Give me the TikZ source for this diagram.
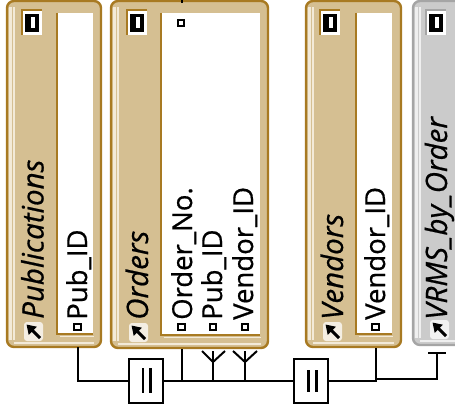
\documentclass[tikz,border=0pt]{standalone}
\usepackage{fontspec}
\setmainfont{Open Sans}[FakeBold=0.6]
\usetikzlibrary{arrows.meta,calc}
\definecolor{tanfill}{HTML}{D5BF92}
\definecolor{tanedge}{HTML}{A87A22}
\definecolor{tandark}{HTML}{9A6B14}
\definecolor{tanlight}{HTML}{F3EAD8}
\definecolor{grayfill}{HTML}{CBCBCB}
\definecolor{grayedge}{HTML}{A5A5A5}
\definecolor{graylight}{HTML}{EFEFEF}
\tikzset{
  paneltitle/.style={rotate=90, anchor=base west, inner sep=0pt, font=\fontsize{29.5}{33}\selectfont\itshape},
  fieldtext/.style={rotate=90, anchor=base west, inner sep=0pt, font=\fontsize{27.5}{30}\selectfont},
  fieldmark/.style={draw=black, fill=white, line width=1.6pt, minimum size=6.5pt, inner sep=0pt, rectangle},
  conn/.style={line width=2pt, black},
  relbox/.style={draw=black, line width=2pt, fill=white, minimum width=34pt, minimum height=44pt, inner sep=0pt},
  relbar/.style={line width=2.6pt, black},
}
\newcommand\mypanel[8]{%
  % #1 x1, #2 x2, #3 bottom, #4 fill, #5 edge, #6 light, #7 icon x, #8 arrow x
  \filldraw[fill=#4, draw=#5, line width=2.4pt, rounded corners=7pt] (#1,1) rectangle (#2,#3);
  \draw[#6, line width=2.4pt] (#1+3.5,7) -- (#1+3.5,#3-7);
  \draw[#6, line width=1.2pt] (#1+7,7) -- (#1+7,#3-7);
  \draw[#6, line width=2pt] (#1+7,#3-4) -- (#2-7,#3-4);
  \fill[white] (#7,10) rectangle (#7+20,35);
  \draw[#5, line width=1.4pt] (#7,35) -- (#7,10) -- (#7+20,10);
  \fill[black] (#7+3,14) rectangle (#7+17,32);
  \fill[white] (#7+9,17.5) rectangle (#7+13,28.5);
  \fill[white, rounded corners=3pt, opacity=0.75] (#8,#3-25) rectangle (#8+19,#3-6);
  \draw[-{Triangle[length=9pt,width=11pt]}, line width=3pt] (#8+16,#3-9) -- (#8+2.5,#3-22.5);
}
\newcommand\mywhite[4]{%
  \fill[white] (#1,13) rectangle (#2,#3);
  \draw[#4, line width=1.6pt] (#1,13) -- (#1,#3) -- (#2,#3);
  \draw[tanlight, line width=1pt] (#1+2.5,#3+2.5) -- (#2+1,#3+2.5);
}
\begin{document}
\begin{tikzpicture}[x=1pt,y=-1pt]
\useasboundingbox (0,0) rectangle (455,409);
\clip (0,0) rectangle (455,409);
\fill[white] (0,0) rectangle (455,409);

% panels
\mypanel{7}{101}{347}{tanfill}{tanedge}{tanlight}{22}{24}
\mywhite{57}{93}{334}{tanedge}
\mypanel{111}{268}{348}{tanfill}{tanedge}{tanlight}{127}{129}
\mywhite{161}{260}{335}{tanedge}
\mypanel{306}{401}{347}{tanfill}{tanedge}{tanlight}{320}{323}
\mywhite{356}{392}{334}{tanedge}
\mypanel{413}{475}{345}{grayfill}{grayedge}{graylight}{426}{430}

% titles
\node[paneltitle] (tPub) at (43.5,319) {Publications};
\node[paneltitle] (tOrd) at (148,320) {Orders};
\node[paneltitle] (tVen) at (343,320) {Vendors};
\node[paneltitle] (tVrms) at (447,320) {VRMS\_by\_Order};

% fields
\node[fieldmark] (mPub) at (77.5,327) {};
\node[fieldtext] (fPub) at (87,320) {Pub\_ID};
\node[fieldmark] (mTop) at (181,23) {};
\node[fieldmark] (mOrdNo) at (181.5,327) {};
\node[fieldtext] (fOrdNo) at (192,320) {Order\_No.};
\node[fieldmark] (mOrdPub) at (213,327) {};
\node[fieldtext] (fOrdPub) at (222,320) {Pub\_ID};
\node[fieldmark] (mOrdVen) at (245,327) {};
\node[fieldtext] (fOrdVen) at (253,320) {Vendor\_ID};
\node[fieldmark] (mVen) at (375.5,327) {};
\node[fieldtext] (fVen) at (385,320) {Vendor\_ID};

% connector anchors
\coordinate (pubEnd) at (78,347);
\coordinate (ordNoEnd) at (182,349);
\coordinate (ordPubEnd) at (213,351);
\coordinate (ordVenEnd) at (245,351);
\coordinate (venEnd) at (376,348);
\coordinate (vrmsEnd) at (437,353);
\coordinate (topTick) at (182,0);
\coordinate (topTickEnd) at (182,3);

\node[relbox] (rel1) at (146,381) {};
\node[relbox] (rel2) at (311,381) {};
\draw[relbar] ([xshift=-3pt,yshift=13pt]rel1.center) -- ([xshift=-3pt,yshift=-12pt]rel1.center);
\draw[relbar] ([xshift=4.5pt,yshift=13pt]rel1.center) -- ([xshift=4.5pt,yshift=-12pt]rel1.center);
\draw[relbar] ([xshift=-2.5pt,yshift=11pt]rel2.center) -- ([xshift=-2.5pt,yshift=-11pt]rel2.center);
\draw[relbar] ([xshift=5.5pt,yshift=11pt]rel2.center) -- ([xshift=5.5pt,yshift=-11pt]rel2.center);

\draw[conn] (topTick) -- (topTickEnd);
\draw[conn] (pubEnd) |- (rel1.west);
\draw[conn] (rel1.east) -- (rel2.west);
\draw[conn] (ordNoEnd) -- (ordNoEnd |- rel1.east);
\draw[conn] (ordPubEnd) -- (ordPubEnd |- rel1.east);
\draw[conn] ([xshift=-11pt]ordPubEnd) -- ([yshift=-11pt]ordPubEnd) -- ([xshift=12pt]ordPubEnd);
\draw[conn] (ordVenEnd) -- (ordVenEnd |- rel1.east);
\draw[conn] ([xshift=-12pt]ordVenEnd) -- ([yshift=-11pt]ordVenEnd) -- ([xshift=12pt]ordVenEnd);
\draw[conn, line width=2.8pt] (rel2.east) -| (venEnd);
\draw[conn] ([yshift=2pt]venEnd |- rel2.east) -| (vrmsEnd);
\draw[conn] ([xshift=-9pt]vrmsEnd) -- ([xshift=9pt]vrmsEnd);
\end{tikzpicture}
\end{document}
